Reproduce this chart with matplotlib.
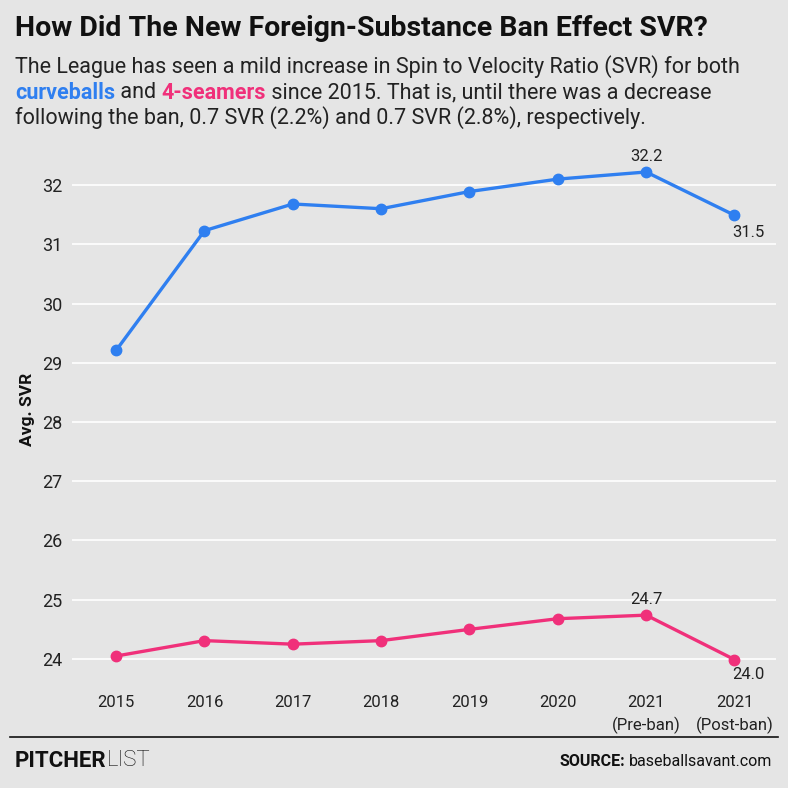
import matplotlib
matplotlib.use("Agg")
import matplotlib.pyplot as plt
from matplotlib.lines import Line2D

categories = ["2015", "2016", "2017", "2018", "2019", "2020", "2021\n(Pre-ban)", "2021\n(Post-ban)"]
curveballs = [29.21, 31.23, 31.68, 31.60, 31.89, 32.10, 32.22, 31.49]
four_seamers = [24.05, 24.31, 24.25, 24.31, 24.50, 24.68, 24.74, 23.99]
yticks = [24, 25, 26, 27, 28, 29, 30, 31, 32]

BG = "#e5e5e5"
BLUE = "#2f7ff0"
PINK = "#f0307a"
FONT = ["Roboto", "DejaVu Sans"]

plt.rcParams['font.family'] = FONT

W = 788
fig = plt.figure(figsize=(7.88, 7.88), dpi=100, facecolor=BG)
ax = fig.add_axes([72 / W, 1 - 680 / W, (776 - 72) / W, (680 - 150) / W])
ax.set_facecolor(BG)
x = list(range(len(categories)))
ax.plot(x, curveballs, color=BLUE, lw=2.4, marker="o", ms=7.5, solid_capstyle="round")
ax.plot(x, four_seamers, color=PINK, lw=2.4, marker="o", ms=7.5, solid_capstyle="round")
ax.set_xlim(-0.5, 7.47)
ax.set_ylim(24 - 21 / 59.2, 32 + 35 / 59.2)
ax.set_yticks(yticks)
ax.set_yticklabels([str(t) for t in yticks])
ax.set_xticks(x)
ax.set_xticklabels(categories, linespacing=1.5)
ax.grid(axis="y", color="white", lw=1.2)
ax.set_axisbelow(True)
for s in ax.spines.values():
    s.set_visible(False)
ax.tick_params(axis="both", length=0, colors="#222222")
ax.tick_params(axis="x", labelsize=12, pad=11)
ax.tick_params(axis="y", labelsize=13, pad=7)
ax.set_ylabel("Avg. SVR", fontsize=12.5, fontweight="bold", color="#111111")
ax.yaxis.set_label_coords(-0.052, 0.51)

# value annotations
ax.annotate(f"{curveballs[6]:.1f}", (6, curveballs[6]), xytext=(0, 6), textcoords="offset points",
            ha="center", va="bottom", fontsize=12, color="#222222")
ax.annotate(f"{curveballs[7]:.1f}", (7, curveballs[7]), xytext=(10, -7), textcoords="offset points",
            ha="center", va="top", fontsize=12, color="#222222")
ax.annotate(f"{four_seamers[6]:.1f}", (6, four_seamers[6]), xytext=(0, 6), textcoords="offset points",
            ha="center", va="bottom", fontsize=12, color="#222222")
ax.annotate(f"{four_seamers[7]:.1f}", (7, four_seamers[7]), xytext=(10, -5), textcoords="offset points",
            ha="center", va="top", fontsize=12, color="#222222")

# Title and subtitle
fig.text(15 / W, 1 - 28 / W, "How Did The New Foreign-Substance Ban Effect SVR?", fontsize=20.5,
         fontweight="bold", va="center", ha="left", color="#111111")
sub_size = 15.5
fig.text(15 / W, 1 - 67 / W, "The League has seen a mild increase in Spin to Velocity Ratio (SVR) for both",
         fontsize=sub_size, va="center", ha="left", color="#222222")
fig.text(15 / W, 1 - 118 / W, "following the ban, 0.7 SVR (2.2%) and 0.7 SVR (2.8%), respectively.",
         fontsize=sub_size, va="center", ha="left", color="#222222")

fig.canvas.draw()
renderer = fig.canvas.get_renderer()
pieces = [("curveballs", BLUE, "bold"), (" and ", "#222222", "normal"), ("4-seamers", PINK, "bold"),
          (" since 2015. That is, until there was a decrease", "#222222", "normal")]
xpos = 15
for txt, col, wt in pieces:
    t = fig.text(xpos / W, 1 - 93 / W, txt, fontsize=sub_size, va="center", ha="left", color=col, fontweight=wt)
    bb = t.get_window_extent(renderer)
    xpos += bb.width

# footer
fig.add_artist(Line2D([10 / W, 778 / W], [1 - 737 / W, 1 - 737 / W], color="#111111", lw=1.2))
t1 = fig.text(15 / W, 1 - 761 / W, "PITCHER", fontsize=16, fontweight="bold", va="center", ha="left",
              color="#111111")
bb = t1.get_window_extent(renderer)
fig.text((15 + bb.width) / W, 1 - 761 / W, "LIST", fontsize=16, fontweight="light", va="center", ha="left",
         color="#111111")
t2 = fig.text(772 / W, 1 - 761 / W, "baseballsavant.com", fontsize=11.5, va="center", ha="right", color="#111111")
bb2 = t2.get_window_extent(renderer)
fig.text((772 - bb2.width - 4) / W, 1 - 761 / W, "SOURCE:", fontsize=11.5, fontweight="bold", va="center",
         ha="right", color="#111111")

fig.savefig("out.png", dpi=100, facecolor=BG)
